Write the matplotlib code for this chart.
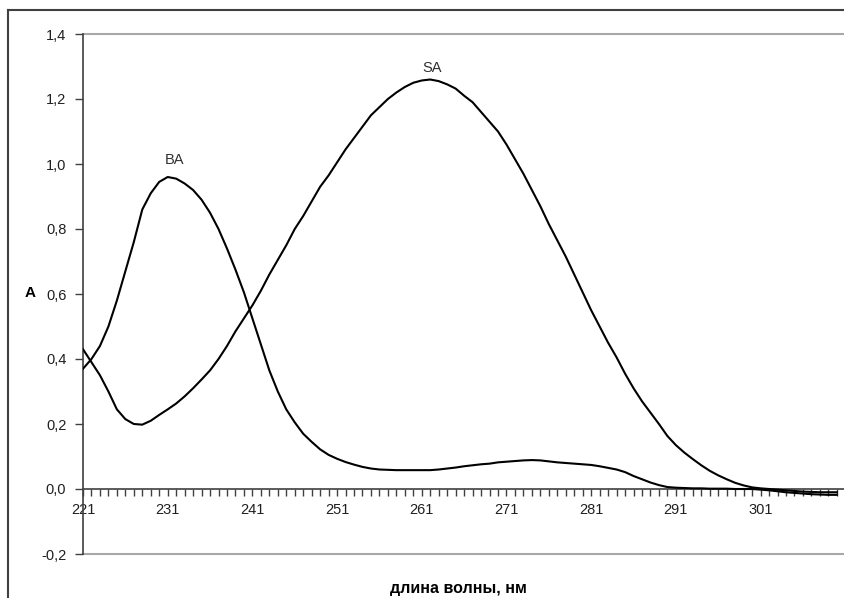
import numpy as np
import matplotlib
matplotlib.use("Agg")
import matplotlib.pyplot as plt
from matplotlib.lines import Line2D
from matplotlib.ticker import FixedLocator, MultipleLocator, FuncFormatter

plt.rcParams['font.family'] = ['Liberation Sans', 'DejaVu Sans']

wavelength = list(range(221, 311))

ba = [0.37, 0.40, 0.44, 0.50, 0.58, 0.67, 0.76, 0.86, 0.91, 0.945,
      0.96, 0.955, 0.94, 0.92, 0.89, 0.85, 0.80, 0.74, 0.675, 0.605,
      0.525, 0.445, 0.365, 0.30, 0.245, 0.205, 0.17, 0.145, 0.122, 0.105,
      0.093, 0.083, 0.075, 0.068, 0.063, 0.060, 0.059, 0.058, 0.058, 0.058,
      0.058, 0.058, 0.060, 0.063, 0.066, 0.070, 0.073, 0.076, 0.078, 0.082,
      0.084, 0.086, 0.088, 0.089, 0.088, 0.085, 0.082, 0.080, 0.078, 0.076,
      0.074, 0.070, 0.065, 0.060, 0.052, 0.040, 0.030, 0.020, 0.012, 0.006,
      0.004, 0.003, 0.002, 0.002, 0.001, 0.001, 0.001, 0.000, 0.000, 0.000,
      -0.002, -0.004, -0.007, -0.010, -0.012, -0.014, -0.016, -0.017, -0.018, -0.018]

sa = [0.43, 0.39, 0.35, 0.30, 0.245, 0.215, 0.20, 0.198, 0.21, 0.228,
      0.245, 0.263, 0.285, 0.31, 0.337, 0.365, 0.40, 0.44, 0.485, 0.525,
      0.565, 0.61, 0.66, 0.705, 0.75, 0.80, 0.84, 0.885, 0.93, 0.965,
      1.005, 1.045, 1.08, 1.115, 1.15, 1.175, 1.20, 1.22, 1.237, 1.25,
      1.257, 1.26, 1.255, 1.245, 1.232, 1.21, 1.19, 1.16, 1.13, 1.10,
      1.06, 1.015, 0.97, 0.92, 0.87, 0.815, 0.765, 0.715, 0.66, 0.605,
      0.55, 0.50, 0.45, 0.405, 0.355, 0.31, 0.27, 0.235, 0.20, 0.163,
      0.135, 0.112, 0.092, 0.073, 0.056, 0.042, 0.03, 0.019, 0.011, 0.005,
      0.002, 0.000, -0.002, -0.004, -0.006, -0.008, -0.009, -0.010, -0.010, -0.010]

x_labels = list(range(221, 302, 10))
y_ticks = [-0.2, 0.0, 0.2, 0.4, 0.6, 0.8, 1.0, 1.2, 1.4]

W, H = 844, 598
fig = plt.figure(figsize=(W / 100, H / 100), dpi=100)
ax = fig.add_axes([83 / W, (H - 554) / H, 1 - 83 / W, (554 - 34) / H])

ax.plot(wavelength, ba, color='black', lw=1.5, zorder=3)
ax.plot(wavelength, sa, color='black', lw=1.5, zorder=3)

ax.set_xlim(221, 310.85)
ax.set_ylim(-0.2, 1.4)

# spines
ax.spines['right'].set_visible(False)
ax.spines['top'].set_visible(False)
ax.spines['left'].set_color('#404040')
ax.spines['left'].set_linewidth(1.2)
ax.spines['bottom'].set_position(('data', 0))
ax.spines['bottom'].set_color('#404040')
ax.spines['bottom'].set_linewidth(1.2)
ax.axhline(1.4, color='#a8a8a8', lw=1.5, zorder=1, clip_on=False)
ax.axhline(-0.2, color='#a8a8a8', lw=1.5, zorder=1, clip_on=False)

ax.yaxis.set_major_locator(FixedLocator(y_ticks))
ax.yaxis.set_major_formatter(FuncFormatter(lambda v, p: f"{v:.1f}".replace('.', ',').replace('-0,0', '0,0')))
ax.xaxis.set_major_locator(FixedLocator(x_labels))
ax.xaxis.set_minor_locator(MultipleLocator(1))
ax.xaxis.set_major_formatter(FuncFormatter(lambda v, p: f"{int(round(v))}"))

ax.tick_params(axis='y', direction='out', length=6, width=1, color='#404040',
               labelsize=10.5, labelcolor='#202020', pad=6)
ax.tick_params(axis='x', which='both', direction='out', length=5, width=1,
               color='#404040', labelsize=10.5, labelcolor='#202020', pad=5)

ax.text(231.8, 0.99, 'BA', ha='center', va='bottom', fontsize=10.5, color='#303030')
ax.text(262.2, 1.275, 'SA', ha='center', va='bottom', fontsize=10.5, color='#303030')

fig.text(30 / W, (H - 293) / H, 'A', ha='center', va='center', fontsize=11,
         fontweight='bold', color='black')
fig.text(458 / W, (H - 588) / H, 'длина волны, нм', ha='center', va='center',
         fontsize=11.5, fontweight='bold', color='black')

# outer chart border
fig.add_artist(Line2D([8 / W, 8 / W], [0, (H - 10) / H], transform=fig.transFigure,
                      color='#404040', lw=1.5))
fig.add_artist(Line2D([8 / W, 1], [(H - 10) / H, (H - 10) / H], transform=fig.transFigure,
                      color='#404040', lw=1.5))

fig.savefig('out.png', dpi=100)
